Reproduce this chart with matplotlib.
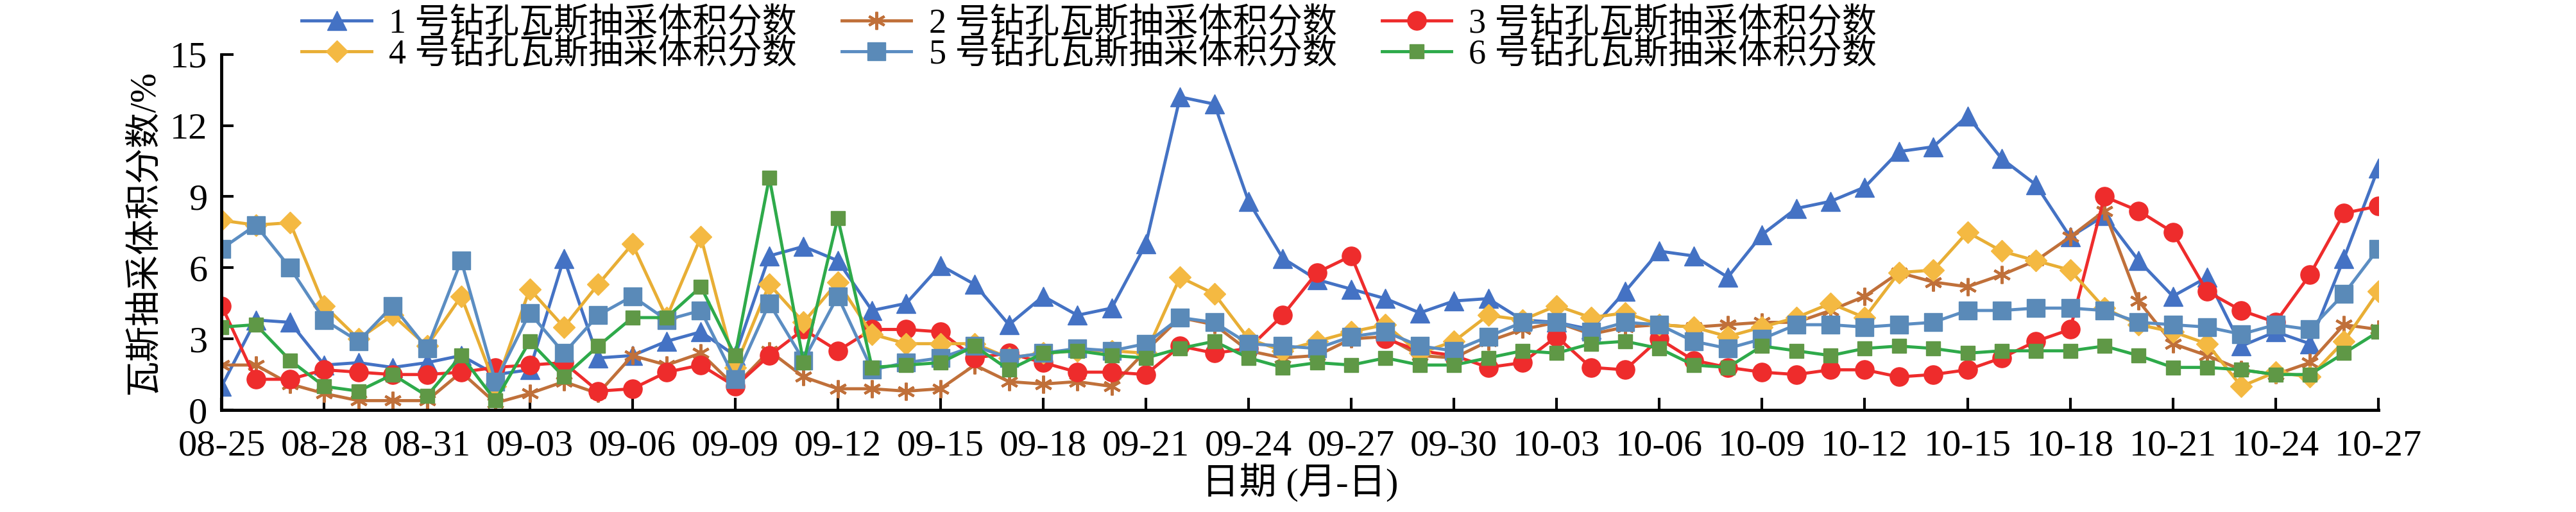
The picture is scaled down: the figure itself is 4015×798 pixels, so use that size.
import matplotlib
matplotlib.use("Agg")
import matplotlib.pyplot as plt
import numpy as np
import datetime as dt

plt.rcParams['font.family'] = ['Liberation Serif', 'Noto Sans CJK SC', 'DejaVu Sans']

start = dt.date(2023, 8, 25)
dates = [(start + dt.timedelta(days=i)).strftime('%m-%d') for i in range(64)]

s1 = [1.0,3.8,3.7,1.9,2.0,1.8,2.0,2.3,1.5,1.7,6.4,2.2,2.3,2.9,3.3,2.3,6.5,6.9,6.3,4.2,4.5,6.1,5.3,3.6,4.8,4.0,4.3,7.0,13.2,12.9,8.8,6.4,5.5,5.1,4.7,4.1,4.6,4.7,3.8,3.7,3.4,5.0,6.7,6.5,5.6,7.4,8.5,8.8,9.4,10.9,11.1,12.4,10.6,9.5,7.3,8.2,6.3,4.8,5.6,2.7,3.3,2.8,6.4,10.2]
s2 = [1.9,1.9,1.1,0.7,0.4,0.4,0.4,1.6,0.3,0.7,1.2,0.7,2.3,1.9,2.4,1.0,2.5,1.4,0.9,0.9,0.8,0.9,1.9,1.2,1.1,1.2,1.0,2.5,3.9,3.6,2.5,2.2,2.3,3.0,3.1,2.3,2.2,2.9,3.4,3.7,3.2,3.5,3.6,3.5,3.6,3.7,3.7,4.2,4.8,5.8,5.4,5.2,5.7,6.3,7.3,8.4,4.6,2.8,2.3,1.7,1.5,2.0,3.6,3.4]
s3 = [4.4,1.3,1.3,1.7,1.6,1.5,1.5,1.6,1.8,1.9,2.0,0.8,0.9,1.6,1.9,1.0,2.3,3.4,2.5,3.4,3.4,3.3,2.2,2.4,2.0,1.6,1.6,1.5,2.7,2.4,2.6,4.0,5.8,6.5,3.0,2.5,2.3,1.8,2.0,3.1,1.8,1.7,3.0,2.1,1.8,1.6,1.5,1.7,1.7,1.4,1.5,1.7,2.2,2.9,3.4,9.0,8.4,7.5,5.0,4.2,3.7,5.7,8.3,8.6]
s4 = [8.0,7.8,7.9,4.4,3.0,4.0,2.7,4.8,1.0,5.1,3.5,5.3,7.0,3.9,7.3,1.8,5.3,3.7,5.4,3.2,2.8,2.8,2.8,2.2,2.4,2.5,2.5,2.4,5.6,4.9,3.0,2.5,2.9,3.3,3.6,2.4,2.9,4.0,3.8,4.4,3.9,4.1,3.6,3.5,3.1,3.5,3.9,4.5,3.9,5.8,5.9,7.5,6.7,6.3,5.9,4.3,3.6,3.3,2.8,1.0,1.6,1.4,2.9,5.0]
s5 = [6.8,7.8,6.0,3.8,2.9,4.4,2.6,6.3,1.2,4.1,2.4,4.0,4.8,3.8,4.2,1.3,4.5,2.1,4.8,1.7,2.0,2.2,2.7,2.2,2.4,2.6,2.5,2.8,3.9,3.7,2.8,2.7,2.6,3.1,3.3,2.7,2.5,3.1,3.7,3.7,3.3,3.7,3.6,2.9,2.6,3.0,3.6,3.6,3.5,3.6,3.7,4.2,4.2,4.3,4.3,4.2,3.7,3.6,3.5,3.2,3.6,3.4,4.9,6.8]
s6 = [3.5,3.6,2.1,1.0,0.8,1.5,0.6,2.3,0.4,2.9,1.4,2.7,3.9,3.9,5.2,2.3,9.8,2.0,8.1,1.8,1.9,2.0,2.7,1.7,2.4,2.5,2.3,2.2,2.6,2.9,2.2,1.8,2.0,1.9,2.2,1.9,1.9,2.2,2.5,2.4,2.8,2.9,2.6,1.9,1.8,2.7,2.5,2.3,2.6,2.7,2.6,2.4,2.5,2.5,2.5,2.7,2.3,1.8,1.8,1.7,1.5,1.5,2.4,3.3]

labels = [f"{i} 号钻孔瓦斯抽采体积分数" for i in range(1, 7)]
series = [s1, s2, s3, s4, s5, s6]
styles = [
    dict(color='#4472C4', marker='^', ms=21),
    dict(color='#C0703A', marker=(6, 2, 0), ms=20, mew=3, mec='#C0703A'),
    dict(color='#EE2C2C', marker='o', ms=21),
    dict(color='#E8AE35', marker='D', ms=17, mfc='#F4B942', mec='#F4B942'),
    dict(color='#5B8DC2', marker='s', ms=20, mfc='#5A8AB8', mec='#5A8AB8'),
    dict(color='#2EAA4A', marker='s', ms=16, mfc='#5F9846', mec='#5F9846'),
]

fig = plt.figure(figsize=(40.16, 7.98), dpi=100)
ax = fig.add_axes([0.086, 0.199, 0.837, 0.695])
x = np.arange(len(dates))
handles = []
for s, lab, st in zip(series, labels, styles):
    h, = ax.plot(x, s, lw=3.5, label=lab, **st)
    handles.append(h)

ax.set_xlim(0, 63)
ax.set_ylim(0, 15)
ax.set_yticks([0, 3, 6, 9, 12, 15])
ax.set_xticks(x[::3])
ax.set_xticklabels(dates[::3])
ax.tick_params(direction='in', length=14, width=3, labelsize=42)
ax.tick_params(axis='x', pad=22)
ax.tick_params(axis='y', pad=16)
for sp in ['top', 'right']:
    ax.spines[sp].set_visible(False)
for sp in ['left', 'bottom']:
    ax.spines[sp].set_linewidth(3.5)
ax.set_ylabel('瓦斯抽采体积分数/%', fontsize=40, labelpad=10)
ax.set_xlabel('日期 (月-日)', fontsize=42, labelpad=0)

order = [0, 3, 1, 4, 2, 5]
fig.legend([handles[i] for i in order], [labels[i] for i in order], ncol=3,
           loc='upper left', bbox_to_anchor=(0.105, 1.045), frameon=False,
           fontsize=39, handlelength=2.0, columnspacing=1.3, labelspacing=-0.05,
           handletextpad=0.5)

fig.savefig('out.png', dpi=100)
